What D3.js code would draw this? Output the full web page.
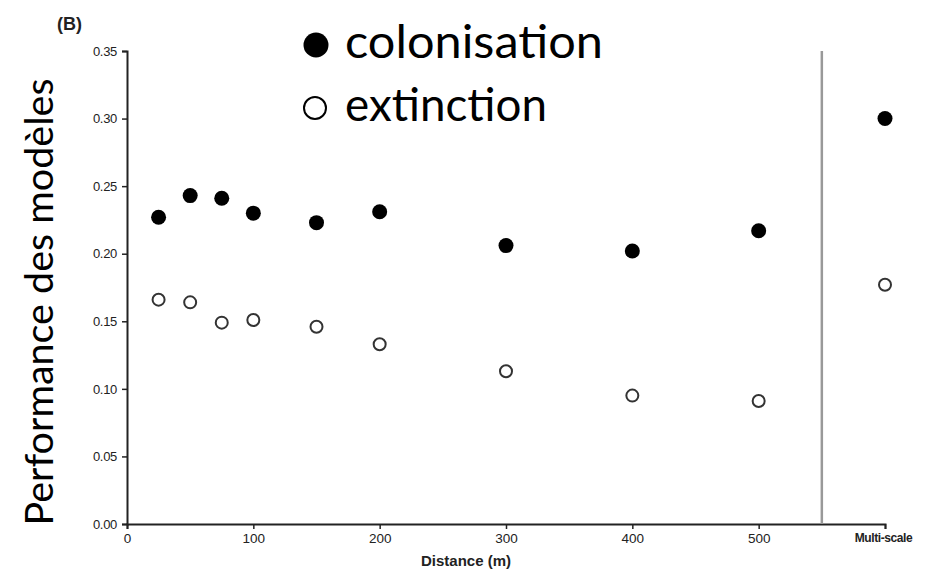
<!DOCTYPE html>
<html>
<head>
<meta charset="utf-8">
<script src="https://d3js.org/d3.v7.min.js"></script>
<style>
  body { margin: 0; background: #fff; }
  svg { display: block; }
  .tick text { font-family: "Liberation Sans", Arial, sans-serif; }
</style>
</head>
<body>
<div id="chart"></div>
<script>
// distances (m) along the x axis
const distances = [25, 50, 75, 100, 150, 200, 300, 400, 500];
const colonisation = [0.227, 0.243, 0.241, 0.230, 0.223, 0.231, 0.206, 0.202, 0.217];
const extinction = [0.166, 0.164, 0.149, 0.151, 0.146, 0.133, 0.113, 0.095, 0.091];
// multi-scale model, drawn after the separator
const multiLabel = "Multi-scale";
const multiColonisation = 0.300;
const multiExtinction = 0.177;
const xTicks = [0, 100, 200, 300, 400, 500];
const yTicks = [0, 0.05, 0.10, 0.15, 0.20, 0.25, 0.30, 0.35];

const width = 925, height = 574;
const margin = {left: 127, right: 40, top: 51, bottom: 50};

const svg = d3.select('#chart').append('svg')
  .attr('width', width)
  .attr('height', height);

// multi-scale sits at 600, separator halfway at 550
const x = d3.scaleLinear().domain([0, 600]).range([margin.left, width - margin.right]);
const y = d3.scaleLinear().domain([0, 0.35]).range([height - margin.bottom, margin.top]);

// x axis
const xAxis = svg.append('g')
  .attr('transform', 'translate(0,' + y(0) + ')')
  .call(d3.axisBottom(x).tickValues(xTicks.concat([600])).tickSize(5).tickPadding(4)
    .tickFormat(d => d === 600 ? multiLabel : d));
xAxis.select('.domain').attr('stroke', '#222').attr('stroke-width', 2);
xAxis.selectAll('.tick line').attr('stroke', '#222').attr('stroke-width', 1.5);
xAxis.selectAll('.tick text').attr('fill', '#222').attr('font-size', 13.5);
xAxis.selectAll('.tick').filter(d => d === 600).select('text')
  .attr('font-size', 12).attr('font-weight', 'bold').attr('letter-spacing', -0.4)
  .attr('dx', -2);

// y axis
const yAxis = svg.append('g')
  .attr('transform', 'translate(' + x(0) + ',0)')
  .call(d3.axisLeft(y).tickValues(yTicks).tickSize(5).tickPadding(5)
    .tickFormat(d3.format('.2f')));
yAxis.select('.domain').attr('stroke', '#222').attr('stroke-width', 2);
yAxis.selectAll('.tick line').attr('stroke', '#222').attr('stroke-width', 1.5);
yAxis.selectAll('.tick text').attr('fill', '#222').attr('font-size', 13)
  .attr('letter-spacing', -0.3);

// separator before multi-scale
svg.append('line')
  .attr('x1', x(550)).attr('x2', x(550))
  .attr('y1', y(0.35)).attr('y2', y(0))
  .attr('stroke', '#999').attr('stroke-width', 2.5);

// points
const colPts = distances.map((d, i) => ({x: d, v: colonisation[i]}))
  .concat([{x: 600, v: multiColonisation}]);
const extPts = distances.map((d, i) => ({x: d, v: extinction[i]}))
  .concat([{x: 600, v: multiExtinction}]);

svg.append('g').selectAll('circle')
  .data(extPts)
  .enter().append('circle')
  .attr('cx', d => x(d.x))
  .attr('cy', d => y(d.v))
  .attr('r', 6)
  .attr('fill', '#fff')
  .attr('stroke', '#333')
  .attr('stroke-width', 2);

svg.append('g').selectAll('circle')
  .data(colPts)
  .enter().append('circle')
  .attr('cx', d => x(d.x))
  .attr('cy', d => y(d.v))
  .attr('r', 7.5)
  .attr('fill', '#000');

// axis titles
svg.append('text')
  .attr('x', 466).attr('y', 566)
  .attr('text-anchor', 'middle')
  .attr('font-family', '"Liberation Sans", Arial, sans-serif')
  .attr('font-size', 15)
  .attr('font-weight', 'bold')
  .attr('fill', '#222')
  .text('Distance (m)');

svg.append('text')
  .attr('transform', 'translate(53,302) rotate(-90)')
  .attr('text-anchor', 'middle')
  .attr('font-family', 'Lato, "Open Sans", sans-serif')
  .attr('font-size', 39)
  .attr('textLength', 447)
  .attr('lengthAdjust', 'spacingAndGlyphs')
  .attr('fill', '#000')
  .text('Performance des modèles');

svg.append('text')
  .attr('x', 57).attr('y', 30)
  .attr('font-family', '"Liberation Sans", Arial, sans-serif')
  .attr('font-size', 18)
  .attr('font-weight', 'bold')
  .attr('fill', '#222')
  .text('(B)');

// legend
const legend = svg.append('g');
legend.append('circle')
  .attr('cx', 316).attr('cy', 45).attr('r', 12.5).attr('fill', '#000');
legend.append('circle')
  .attr('cx', 315).attr('cy', 108).attr('r', 11)
  .attr('fill', '#fff').attr('stroke', '#000').attr('stroke-width', 2);
legend.append('text')
  .attr('x', 345).attr('y', 58)
  .attr('font-family', 'Lato, "Open Sans", sans-serif')
  .attr('font-size', 47)
  .attr('textLength', 258)
  .attr('lengthAdjust', 'spacingAndGlyphs')
  .text('colonisation');
legend.append('text')
  .attr('x', 345).attr('y', 121)
  .attr('font-family', 'Lato, "Open Sans", sans-serif')
  .attr('font-size', 47)
  .attr('textLength', 202)
  .attr('lengthAdjust', 'spacingAndGlyphs')
  .text('extinction');
</script>
</body>
</html>
